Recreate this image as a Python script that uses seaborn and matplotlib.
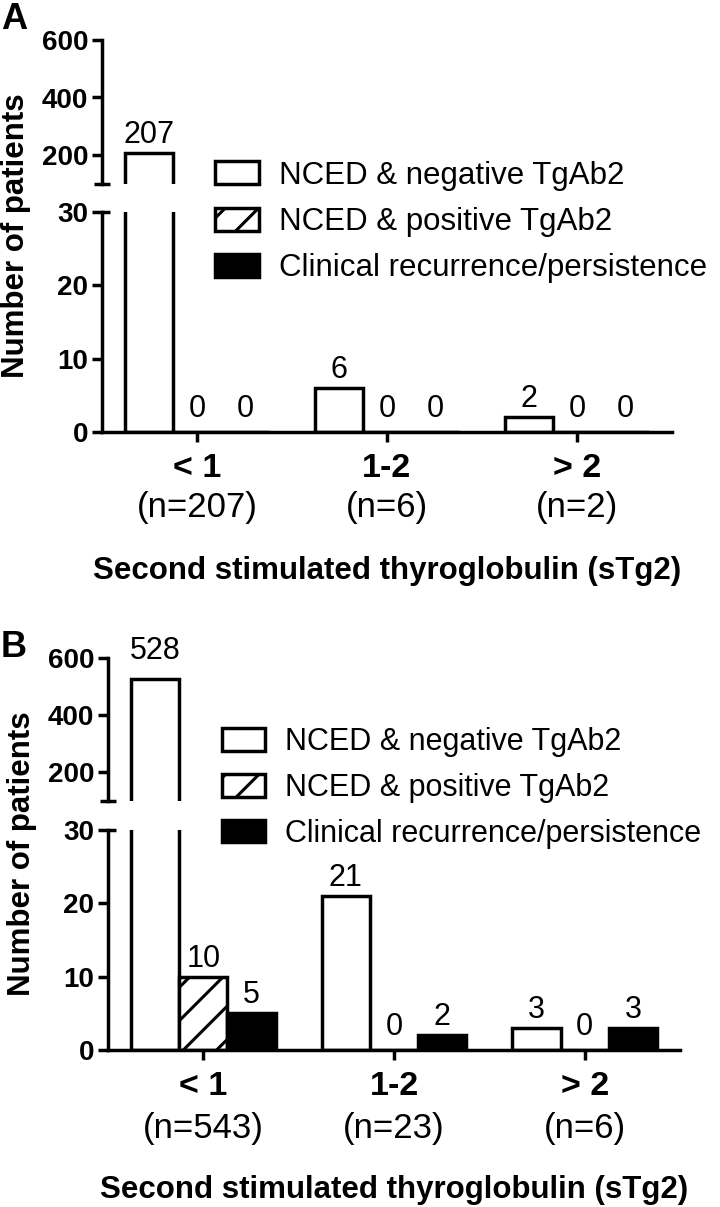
import numpy as np
import pandas as pd
import matplotlib
matplotlib.use('Agg')
import matplotlib.pyplot as plt
import seaborn as sns
from matplotlib.transforms import blended_transform_factory

# ---------------- data ----------------
categories = ['< 1', '1-2', '> 2']
groups = ['NCED & negative TgAb2', 'NCED & positive TgAb2',
          'Clinical recurrence/persistence']

a_neg = [207, 6, 2]
a_pos = [0, 0, 0]
a_clin = [0, 0, 0]
a_n = [207, 6, 2]

b_neg = [528, 21, 3]
b_pos = [10, 0, 0]
b_clin = [5, 2, 3]
b_n = [543, 23, 6]

upper_ticks = [200, 400, 600]
lower_ticks = [0, 10, 20, 30]
xlabel_text = 'Second stimulated thyroglobulin (sTg2)'
ylabel_text = 'Number of patients'


def long_df(neg, pos, clin):
    rows = []
    for g, vals in zip(groups, (neg, pos, clin)):
        for c, v in zip(categories, vals):
            rows.append({'cat': c, 'group': g, 'value': v})
    return pd.DataFrame(rows)


# ---------------- style ----------------
sns.set_style('white')
plt.rcParams['font.family'] = ['Liberation Sans', 'DejaVu Sans']
plt.rcParams['hatch.linewidth'] = 2.2
plt.rcParams['hatch.color'] = 'black'
plt.rcParams['axes.linewidth'] = 2.5
for k in ('text.color', 'axes.labelcolor', 'xtick.color', 'ytick.color',
          'axes.edgecolor'):
    plt.rcParams[k] = 'black'

W, H = 720, 1207
fig = plt.figure(figsize=(W / 100, H / 100), dpi=100)


def rect(left, top, right, bottom):
    return [left / W, 1 - bottom / H, (right - left) / W, (bottom - top) / H]


def fy(ypx):
    return 1 - ypx / H


LW = 2.5
palette = ['white', 'white', 'black']

panels = [
    dict(letter='A', df=long_df(a_neg, a_pos, a_clin), n=a_n,
         x0=102, x1=672, up=(40, 183.75), low=(212, 432),
         letter_base=29, ylab_x=24, cat_base=477, n_base=517, title_base=579,
         legend_anchor=(215, 222), legend_fs=22.5),
    dict(letter='B', df=long_df(b_neg, b_pos, b_clin), n=b_n,
         x0=108, x1=680, up=(658, 800.5), low=(830, 1050),
         letter_base=657, ylab_x=30, cat_base=1095, n_base=1138,
         title_base=1198, legend_anchor=(222, 788), legend_fs=22),
]

for P in panels:
    ax_up = fig.add_axes(rect(P['x0'], P['up'][0], P['x1'], P['up'][1]))
    ax_lo = fig.add_axes(rect(P['x0'], P['low'][0], P['x1'], P['low'][1]))

    for ax, lim, ticks in ((ax_up, (100, 600), upper_ticks),
                           (ax_lo, (0, 30), lower_ticks)):
        sns.barplot(data=P['df'], x='cat', y='value', hue='group',
                    order=categories, hue_order=groups, palette=palette,
                    edgecolor='black', linewidth=LW, width=0.76,
                    saturation=1, errorbar=None, legend=False, ax=ax)
        for patch in ax.containers[1]:
            patch.set_hatch('/')
        ax.set_xlim(-0.5, 2.5)
        ax.set_ylim(*lim)
        ax.set_yticks(ticks)
        ax.set_yticklabels([str(t) for t in ticks], fontsize=20,
                           fontweight='bold')
        ax.tick_params(axis='y', length=7.5, width=LW, pad=2.5, left=True)
        ax.set_xlabel('')
        ax.set_ylabel('')
        ax.set_facecolor('none')
        for s in ('top', 'right'):
            ax.spines[s].set_visible(False)
        ax.spines['left'].set_linewidth(LW)
        ax.spines['bottom'].set_linewidth(LW)

        # value labels
        for cont in ax.containers:
            for p in cont:
                h = p.get_height()
                inside = (h <= lim[1]) if ax is ax_lo else (h > lim[0])
                if not inside:
                    continue
                if h == 0:
                    off = 10.8
                elif ax is ax_up and h > 400:
                    off = 14
                else:
                    off = 7.2
                ax.annotate(f'{h:.0f}', (p.get_x() + p.get_width() / 2, h),
                            xytext=(0, off), textcoords='offset points',
                            ha='center', va='baseline', fontsize=22,
                            annotation_clip=False)

    # upper axis: only left spine
    ax_up.spines['bottom'].set_visible(False)
    ax_up.tick_params(axis='x', bottom=False, labelbottom=False)

    # lower axis x ticks
    ax_lo.set_xticks(range(len(categories)))
    ax_lo.set_xticklabels([])
    ax_lo.tick_params(axis='x', length=7.5, width=LW, bottom=True,
                      direction='out')

    # axis-break caps
    hw = 8 / (P['x1'] - P['x0'])
    ax_up.plot([-hw, hw], [0, 0], color='black', lw=LW,
               transform=ax_up.transAxes, clip_on=False,
               solid_capstyle='butt')
    ax_lo.plot([0, hw], [1, 1], color='black', lw=LW,
               transform=ax_lo.transAxes, clip_on=False,
               solid_capstyle='butt')

    # category labels (bold) + n labels
    tr = blended_transform_factory(ax_lo.transData, fig.transFigure)
    for i, (c, n) in enumerate(zip(categories, P['n'])):
        ax_lo.text(i, fy(P['cat_base']), c, transform=tr, ha='center',
                   va='baseline', fontsize=24.5, fontweight='bold')
        ax_lo.text(i, fy(P['n_base']), f'(n={n})', transform=tr,
                   ha='center', va='baseline', fontsize=25)

    # x title
    fig.text((P['x0'] + P['x1']) / 2 / W, fy(P['title_base']), xlabel_text,
             ha='center', va='baseline', fontsize=22.5, fontweight='bold')

    # y label
    ycen = (P['up'][0] + P['low'][1]) / 2
    fig.text(P['ylab_x'] / W, fy(ycen), ylabel_text, rotation=90,
             rotation_mode='anchor', ha='center', va='baseline',
             fontsize=22.5, fontweight='bold')

    # panel letter
    fig.text(1 / W, fy(P['letter_base']), P['letter'], ha='left',
             va='baseline', fontsize=26, fontweight='bold')

    # legend
    lx, ly = P['legend_anchor']
    ax_lo.legend(ax_lo.containers, groups, loc='center left',
                 bbox_to_anchor=(lx / W, fy(ly)),
                 bbox_transform=fig.transFigure, frameon=False,
                 borderpad=0, borderaxespad=0, handlelength=1.4,
                 handleheight=0.75, handletextpad=0.65, labelspacing=0.52,
                 fontsize=P['legend_fs'])

fig.savefig('out.png', dpi=100, facecolor='white')
